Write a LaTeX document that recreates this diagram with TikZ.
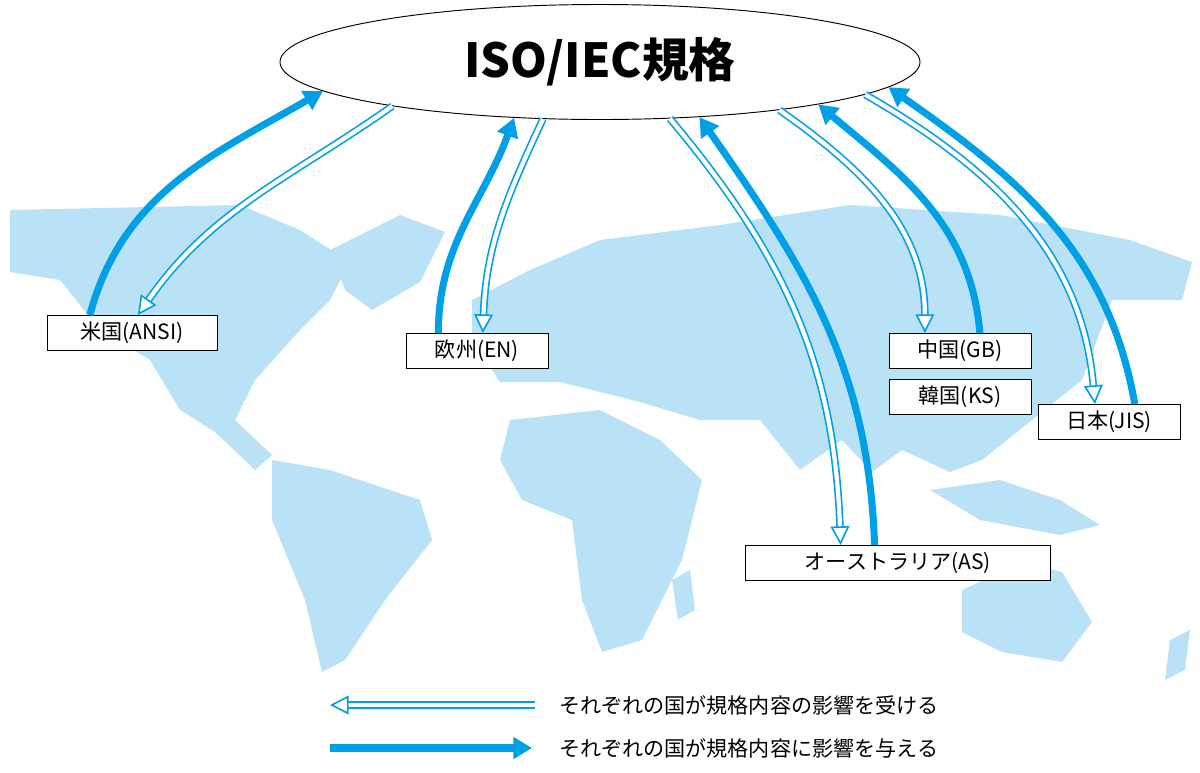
\documentclass[tikz,border=0pt]{standalone}
\usepackage{fontspec}
\setmainfont{Noto Sans CJK JP}
\usetikzlibrary{shapes.geometric, arrows.meta, positioning}
\definecolor{mapblue}{RGB}{186,226,246}
\definecolor{arrowblue}{RGB}{0,160,230}
\begin{document}
\begin{tikzpicture}[
    x=0.03cm, y=-0.03cm,
    country/.style={rectangle, draw, thick, fill=white, minimum height=1.05cm, minimum width=4.26cm, font=\fontsize{18}{20}\selectfont},
    give/.style={arrowblue, line width=6pt, -{Triangle[length=16pt, width=18pt]}},
    take/.style={draw=arrowblue, line width=1.4pt, double=white, double distance=3.6pt, -{Triangle[open, fill=white, length=16pt, width=16pt, line width=1.4pt]}},
    legend/.style={anchor=west, font=\fontsize{18}{20}\selectfont}
]
\useasboundingbox (0,0) rectangle (1200,772);

% World map (rough)
\fill[mapblue] (10,210) -- (240,205) -- (300,230) -- (350,262) -- (330,300) -- (300,330) -- (255,380) -- (235,420) -- (272,455) -- (255,470) -- (215,432) -- (180,410) -- (150,360) -- (100,330) -- (60,280) -- (10,272) -- cycle;
\fill[mapblue] (330,250) -- (400,215) -- (445,232) -- (420,282) -- (372,310) -- (345,290) -- cycle;
\fill[mapblue] (272,460) -- (330,470) -- (420,500) -- (432,540) -- (385,600) -- (345,660) -- (322,672) -- (305,600) -- (272,520) -- cycle;
\fill[mapblue] (472,300) -- (530,270) -- (600,240) -- (720,225) -- (850,205) -- (1000,215) -- (1130,240) -- (1192,262) -- (1182,300) -- (1112,300) -- (1082,380) -- (1032,420) -- (982,460) -- (950,472) -- (902,450) -- (872,472) -- (842,440) -- (800,470) -- (760,420) -- (700,420) -- (640,402) -- (560,382) -- (500,382) -- (472,340) -- cycle;
\fill[mapblue] (510,420) -- (600,410) -- (660,440) -- (702,480) -- (682,560) -- (642,640) -- (602,652) -- (582,600) -- (572,520) -- (522,500) -- (500,460) -- cycle;
\fill[mapblue] (672,580) -- (690,570) -- (695,610) -- (678,620) -- cycle;
\fill[mapblue] (962,590) -- (1022,562) -- (1062,572) -- (1092,622) -- (1062,662) -- (1002,652) -- (962,632) -- cycle;
\fill[mapblue] (1170,640) -- (1190,630) -- (1185,670) -- (1165,680) -- cycle;
\fill[mapblue] (930,490) -- (1000,480) -- (1060,500) -- (1100,525) -- (1060,535) -- (980,520) -- cycle;

% Standard and national bodies
\node[ellipse, draw, thick, fill=white, minimum width=19.2cm, minimum height=3.45cm,
      font=\bfseries\fontsize{40}{44}\selectfont] (iso) at (600,62) {ISO/IEC規格};
\node[country, minimum width=5.1cm] (us) at (132,333) {米国(ANSI)};
\node[country] (eu) at (477,351) {欧州(EN)};
\node[country] (cn) at (960,351) {中国(GB)};
\node[country] (kr) at (960,397) {韓国(KS)};
\node[country] (jp) at (1109,422) {日本(JIS)};
\node[country, minimum width=9.15cm] (au) at (898,563) {オーストラリア(AS)};

% Arrows
\draw[give] ([xshift=-36pt]us.north) to[out=75, in=210] (iso.186.5);
\draw[take] (iso.192) to[out=215, in=55] ([xshift=5pt]us.north);
\draw[give] ([xshift=-33pt]eu.north) to[out=90, in=250] (iso.213);
\draw[take] (iso.225.5) to[out=245, in=88] ([xshift=5pt]eu.north);
\draw[take] (iso.321.5) to[out=-50, in=92] ([xshift=-49pt]au.north);
\draw[give] ([xshift=-20pt]au.north) to[out=92, in=-55] (iso.331.6);
\draw[take] (iso.345.4) to[out=-35, in=90] ([xshift=-30pt]cn.north);
\draw[give] ([xshift=17pt]cn.north) to[out=95, in=-40] (iso.349.4);
\draw[take] (iso.353.5) to[out=-30, in=95] ([xshift=-12pt]jp.north);
\draw[give] ([xshift=22pt]jp.north) to[out=100, in=-35] (iso.355.7);

% Legend
\coordinate (la) at (535,705);
\coordinate (lb) at (330,705);
\coordinate (lc) at (330,748);
\coordinate (ld) at (532,748);
\draw[take] (la) -- (lb);
\draw[give] (lc) -- (ld);
\node[legend] (lt1) at (555,705) {それぞれの国が規格内容の影響を受ける};
\node[legend] (lt2) at (555,748) {それぞれの国が規格内容に影響を与える};
\end{tikzpicture}
\end{document}
